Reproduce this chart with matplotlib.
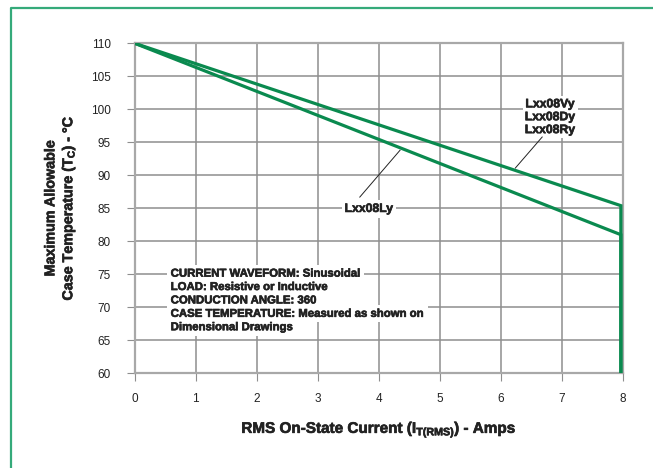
import matplotlib
matplotlib.use("Agg")
import matplotlib.pyplot as plt
from matplotlib.lines import Line2D
import matplotlib.patheffects as pe

plt.rcParams['font.family'] = ['Liberation Sans', 'DejaVu Sans']
plt.rcParams['mathtext.fontset'] = 'custom'
plt.rcParams['mathtext.rm'] = 'Liberation Sans:bold'
plt.rcParams['mathtext.it'] = 'Liberation Sans:bold'
plt.rcParams['mathtext.bf'] = 'Liberation Sans:bold'

# Data
current_vdr = [0, 7.97, 7.97]
temp_vdr = [110, 85.4, 60]
current_l = [0, 7.97, 7.97]
temp_l = [110, 81.0, 60]

x_ticks = [0, 1, 2, 3, 4, 5, 6, 7, 8]
y_ticks = [60, 65, 70, 75, 80, 85, 90, 95, 100, 105, 110]

notes = ["CURRENT WAVEFORM: Sinusoidal",
         "LOAD: Resistive or Inductive",
         "CONDUCTION ANGLE: 360",
         "CASE TEMPERATURE: Measured as shown on",
         "Dimensional Drawings"]

line_green = '#0a8a4f'
frame_green = '#35aa7a'
grid_gray = '#8e8e8e'
text_col = '#222222'
heavy = [pe.withStroke(linewidth=0.45, foreground=text_col)]

W, H = 653, 468
fig = plt.figure(figsize=(W / 100, H / 100), dpi=100)
ax = fig.add_axes([134.7 / W, 1 - 373.3 / H, (622.7 - 134.7) / W, (373.3 - 43.3) / H])

ax.plot(current_vdr, temp_vdr, color=line_green, lw=2.3, solid_joinstyle='miter', zorder=4)
ax.plot(current_l, temp_l, color=line_green, lw=2.3, solid_joinstyle='miter', zorder=4)

ax.set_xlim(0, 8)
ax.set_ylim(60, 110)
ax.set_xticks(x_ticks)
ax.set_yticks(y_ticks)
ax.grid(True, color=grid_gray, lw=1.1)
ax.set_axisbelow(True)
for s in ax.spines.values():
    s.set_color('#a8a8a8')
    s.set_linewidth(1.6)
ax.tick_params(axis='both', colors='#8e8e8e', labelcolor=text_col, labelsize=8.5,
               length=6, width=0.8)
ax.tick_params(axis='y', pad=11)
ax.tick_params(axis='x', pad=8)

xl = ax.set_xlabel("RMS On-State Current (I$_{\\mathrm{T(RMS)}}$) - Amps",
                   fontsize=11, fontweight='bold', color=text_col, labelpad=11)
xl.set_path_effects(heavy)
yl = ax.set_ylabel("Maximum Allowable\nCase Temperature (T$_{\\mathrm{C}}$) - °C",
                   fontsize=10.3, fontweight='bold', color=text_col, labelpad=10,
                   linespacing=1.15)
yl.set_path_effects(heavy)

# Notes block
y0 = 75.1
dy = 2.03
for i, t in enumerate(notes):
    ax.text(0.59, y0 - i * dy, t, fontsize=8.2, fontweight='bold', color=text_col,
            ha='left', va='center', zorder=5, path_effects=heavy,
            bbox=dict(facecolor='white', edgecolor='none', pad=2.5))

# Series labels
ax.text(3.84, 84.9, "Lxx08Ly", fontsize=8.8, fontweight='bold', color=text_col,
        ha='center', va='center', zorder=5, path_effects=heavy,
        bbox=dict(facecolor='white', edgecolor='none', pad=2.0))
ax.plot([3.69, 4.35], [86.7, 93.8], color=text_col, lw=0.7, zorder=5)

ax.text(6.81, 98.8, "Lxx08Vy\nLxx08Dy\nLxx08Ry", fontsize=8.8, fontweight='bold',
        color=text_col, ha='center', va='center', linespacing=1.1, zorder=5,
        path_effects=heavy,
        bbox=dict(facecolor='white', edgecolor='none', pad=1.5))
ax.plot([6.68, 6.24], [95.8, 91.1], color=text_col, lw=0.7, zorder=5)

# Outer frame (top and left edges)
fx = 10.7 / W
fy = 1 - 8.3 / H
fig.add_artist(Line2D([fx, fx, 1.0], [0.0, fy, fy], transform=fig.transFigure,
                      color=frame_green, lw=1.6))

fig.savefig("out.png", dpi=100)
